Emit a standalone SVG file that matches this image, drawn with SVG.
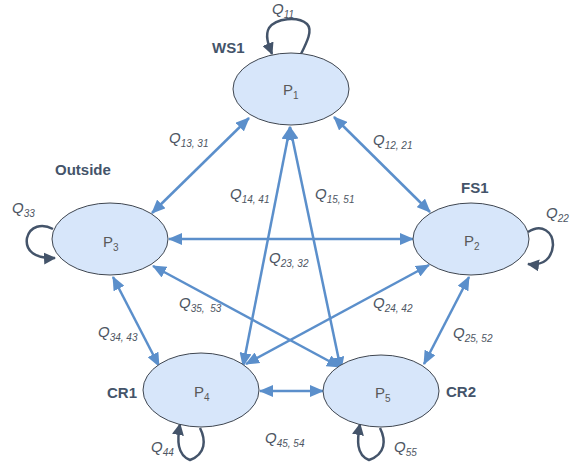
<svg xmlns="http://www.w3.org/2000/svg" width="580" height="465" viewBox="0 0 580 465">
<defs>
<marker id="ab" viewBox="0 0 14 12" refX="13" refY="6" markerWidth="14" markerHeight="12" markerUnits="userSpaceOnUse" orient="auto-start-reverse"><path d="M0,0 L14,6 L0,12 z" fill="#5B8FCB"/></marker>
<marker id="ad" viewBox="0 0 12 12" refX="11" refY="6" markerWidth="12" markerHeight="12" markerUnits="userSpaceOnUse" orient="auto"><path d="M0,0 L12,6 L0,12 z" fill="#44546A"/></marker>
</defs>
<style>
.node{fill:#D7E6FA;stroke:#3F4650;stroke-width:1}
.con{stroke:#5B8FCB;stroke-width:2.5;fill:none;marker-start:url(#ab);marker-end:url(#ab)}
.loop{stroke:#44546A;stroke-width:2.5;fill:none;marker-end:url(#ad)}
.pl{font-family:"Liberation Sans",Arial,sans-serif;font-size:15px;fill:#595959}
.q{font-family:"Liberation Sans",Arial,sans-serif;font-size:15px;font-style:italic;fill:#4E5663}
.sub{font-size:10px}
.nm{font-family:"Liberation Sans",Arial,sans-serif;font-size:15px;font-weight:bold;fill:#44546A}
</style>
<g id="connectors">
<line class="con" x1="249" y1="118" x2="152" y2="213"/>
<line class="con" x1="334" y1="117" x2="430" y2="212"/>
<line class="con" x1="169" y1="239" x2="413" y2="239"/>
<line class="con" x1="290" y1="127" x2="243" y2="366"/>
<line class="con" x1="290" y1="127" x2="341" y2="370"/>
<line class="con" x1="153" y1="266" x2="340" y2="367"/>
<line class="con" x1="429" y1="265" x2="246" y2="364"/>
<line class="con" x1="113" y1="277" x2="159" y2="366"/>
<line class="con" x1="469" y1="277" x2="424" y2="364"/>
<line class="con" x1="260" y1="391" x2="323" y2="391"/>
<path class="loop" d="M301,54 C307,42 313,30 307,24 C298,16 276,18 269,28 C265,35 268,44 272,54"/>
<path class="loop" d="M53,229 C42,223 30,226 27,238 C25,250 34,259 55,258"/>
<path class="loop" d="M528,232 C542,223 553,232 553,245 C552,258 544,266 528,264"/>
<path class="loop" d="M200,428 C206,440 206,454 190,460 C177,455 177,440 180,424"/>
<path class="loop" d="M380,428 C386,440 386,454 369,460 C356,455 357,440 360,424"/>
</g>
<g id="P1"><ellipse class="node" cx="291" cy="89" rx="58" ry="36"/><text class="pl" x="283" y="95">P<tspan class="sub" dy="4">1</tspan></text><text class="nm" x="212" y="53">WS1</text></g>
<g id="P2"><ellipse class="node" cx="471" cy="239" rx="58" ry="36"/><text class="pl" x="464" y="246">P<tspan class="sub" dy="4">2</tspan></text><text class="nm" x="461" y="193">FS1</text></g>
<g id="P3"><ellipse class="node" cx="110" cy="239" rx="58" ry="36"/><text class="pl" x="103" y="247">P<tspan class="sub" dy="4">3</tspan></text><text class="nm" x="55" y="175">Outside</text></g>
<g id="P4"><ellipse class="node" cx="201" cy="390" rx="58" ry="37"/><text class="pl" x="194" y="397">P<tspan class="sub" dy="4">4</tspan></text><text class="nm" x="107" y="398">CR1</text></g>
<g id="P5"><ellipse class="node" cx="381" cy="391" rx="58" ry="36"/><text class="pl" x="375" y="398">P<tspan class="sub" dy="4">5</tspan></text><text class="nm" x="446" y="397">CR2</text></g>
<g id="labels">
<text class="q" x="272" y="14">Q<tspan class="sub" dy="4">11</tspan></text>
<text class="q" x="12" y="213">Q<tspan class="sub" dy="4">33</tspan></text>
<text class="q" x="546" y="218">Q<tspan class="sub" dy="4">22</tspan></text>
<text class="q" x="169" y="143">Q<tspan class="sub" dy="4">13, 31</tspan></text>
<text class="q" x="373" y="145">Q<tspan class="sub" dy="4">12, 21</tspan></text>
<text class="q" x="230" y="199">Q<tspan class="sub" dy="4">14, 41</tspan></text>
<text class="q" x="315" y="199">Q<tspan class="sub" dy="4">15, 51</tspan></text>
<text class="q" x="269" y="263">Q<tspan class="sub" dy="4">23, 32</tspan></text>
<text class="q" x="179" y="308" xml:space="preserve">Q<tspan class="sub" dy="4">35,  53</tspan></text>
<text class="q" x="373" y="308">Q<tspan class="sub" dy="4">24, 42</tspan></text>
<text class="q" x="98" y="337">Q<tspan class="sub" dy="4">34, 43</tspan></text>
<text class="q" x="453" y="338">Q<tspan class="sub" dy="4">25, 52</tspan></text>
<text class="q" x="265" y="443">Q<tspan class="sub" dy="4">45, 54</tspan></text>
<text class="q" x="151" y="452">Q<tspan class="sub" dy="4">44</tspan></text>
<text class="q" x="394" y="452">Q<tspan class="sub" dy="4">55</tspan></text>
</g>
</svg>
